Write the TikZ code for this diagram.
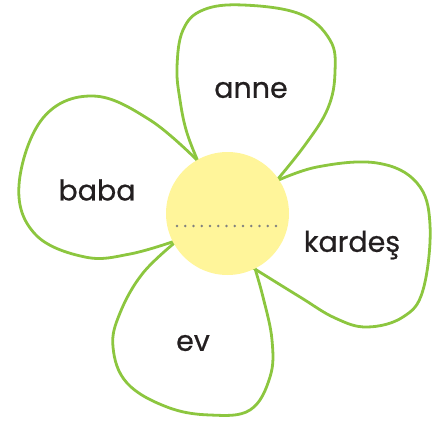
\documentclass[tikz,border=0pt]{standalone}
\usepackage{fontspec}
\setmainfont{Poppins}[FakeBold=0.6]
\definecolor{petalgreen}{HTML}{8CC63F}
\definecolor{centeryellow}{HTML}{FFF59A}
\definecolor{dotgray}{HTML}{808080}
\definecolor{inkblack}{HTML}{231F20}
\tikzset{
  petal/.style={draw=petalgreen, line width=2.8pt, line join=round},
  word/.style={font=\fontsize{28.5}{32}\selectfont, text=inkblack, inner sep=0pt},
  centre/.style={circle, fill=centeryellow, minimum size=123pt, inner sep=0pt},
  dotline/.style={dotgray, line width=2.6pt, line cap=round, dash pattern=on 0pt off 8.25pt}
}
\begin{document}
\begin{tikzpicture}[x=1pt,y=-1pt]
\useasboundingbox (0,0) rectangle (445,421);
% petals
\draw[petal] plot[smooth, tension=0.65] coordinates {(200,166) (187,133) (180,100) (177,67) (183,30) (203,10) (243,5) (300,14) (330,40) (335,72) (328,108) (305,145) (272,186)};
\draw[petal] plot[smooth, tension=0.65] coordinates {(200,163) (150,120) (93,96) (43,118) (19,185) (35,234) (85,257) (130,254) (178,240)};
\draw[petal] plot[smooth, tension=0.65] coordinates {(272,183) (317,167) (377,163) (417,183) (430,225) (423,290) (403,317) (367,327) (335,318) (300,297) (250,266)};
\draw[petal] plot[smooth, tension=0.65] coordinates {(178,240) (143,273) (120,313) (113,347) (127,383) (167,407) (210,415) (250,410) (270,377) (272,340) (263,297) (253,262)};
% centre
\node[centre] (c) at (227.5,213.5) {};
\coordinate (dl) at (177,226);
\coordinate (dr) at (276,226);
\draw[dotline] (dl) -- (dr);
% words
\node[word] (anne) at (251,90) {anne};
\node[word] (baba) at (97,190) {baba};
\node[word] (kardes) at (352,245) {kardeş};
\node[word] (ev) at (193,343) {ev};
\end{tikzpicture}
\end{document}
